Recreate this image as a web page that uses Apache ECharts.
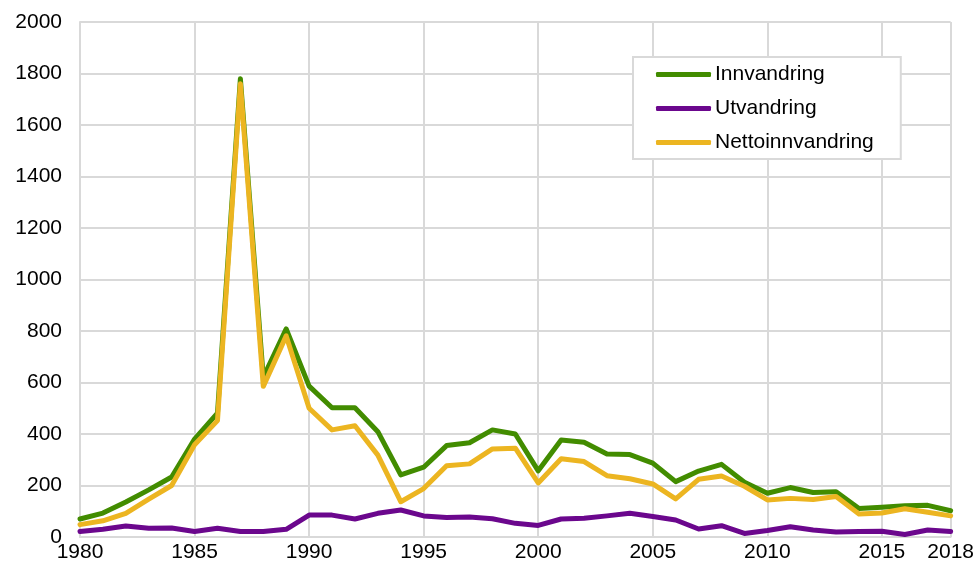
<!DOCTYPE html>
<html>
<head>
<meta charset="utf-8">
<script src="https://cdn.jsdelivr.net/npm/echarts@6/dist/echarts.min.js"></script>
<style>html,body{margin:0;padding:0;background:#fff}#c{width:977px;height:564px}</style>
</head>
<body>
<div id="c"></div>
<script>
const years = [1980,1981,1982,1983,1984,1985,1986,1987,1988,1989,1990,1991,1992,1993,1994,1995,1996,1997,1998,1999,2000,2001,2002,2003,2004,2005,2006,2007,2008,2009,2010,2011,2012,2013,2014,2015,2016,2017,2018];
const innvandring = [70,93,136,183,233,380,481,1780,620,808,586,502,502,409,241,271,355,366,416,400,257,377,368,322,320,287,215,256,282,213,170,192,173,176,111,116,121,123,102];
const utvandring = [21,30,43,34,35,21,34,21,21,30,85,85,70,92,105,82,76,78,71,53,45,70,73,82,92,80,66,31,44,14,25,40,27,19,21,22,10,27,21];
const nettoinnvandring = [48,63,92,147,200,358,452,1760,585,781,500,416,432,318,137,188,277,284,342,345,210,304,293,238,226,206,148,224,237,197,144,150,146,157,89,93,110,96,82];
const seriesNames = ['Innvandring','Utvandring','Nettoinnvandring'];
const colors = ['#428c00','#6b078d','#ecb521'];

const pair = arr => years.map((y,i)=>[y,arr[i]]);
const font = '"Liberation Sans", Arial, sans-serif';
const grid = '#d9d9d9';
const chart = echarts.init(document.getElementById('c'), null, {renderer:'canvas'});
chart.setOption({
  animation:false,
  backgroundColor:'#fff',
  grid:{left:80,right:23,top:22,bottom:27,containLabel:false},
  xAxis:{type:'value',min:1980,max:2018,interval:5,
    axisLine:{show:true,lineStyle:{color:grid,width:2}},
    axisTick:{show:false},
    splitLine:{show:true,lineStyle:{color:grid,width:2}},
    axisLabel:{color:'#000',fontSize:21,fontFamily:font,margin:5,showMaxLabel:true,showMinLabel:true,
      formatter:v=>String(v)}},
  yAxis:{type:'value',min:0,max:2000,interval:200,
    axisLine:{show:true,lineStyle:{color:grid,width:2}},
    axisTick:{show:false},
    splitLine:{show:true,lineStyle:{color:grid,width:2}},
    axisLabel:{color:'#000',fontSize:21,fontFamily:font,margin:18,formatter:v=>String(v)}},
  legend:{orient:'vertical',left:633,top:57,
    padding:[7,27,6,23],itemGap:13,
    borderColor:'#d9d9d9',borderWidth:2,backgroundColor:'#fff',
    itemWidth:55,itemHeight:5,icon:'roundRect',
    textStyle:{color:'#000',fontSize:21,fontFamily:font,padding:[0,0,0,-1]},
    data:seriesNames},
  series:[innvandring,utvandring,nettoinnvandring].map((d,i)=>({
    name:seriesNames[i],type:'line',data:pair(d),
    showSymbol:false,symbol:'none',
    lineStyle:{color:colors[i],width:5,join:'round',cap:'round'},
    itemStyle:{color:colors[i]}
  }))
});
</script>
</body>
</html>
